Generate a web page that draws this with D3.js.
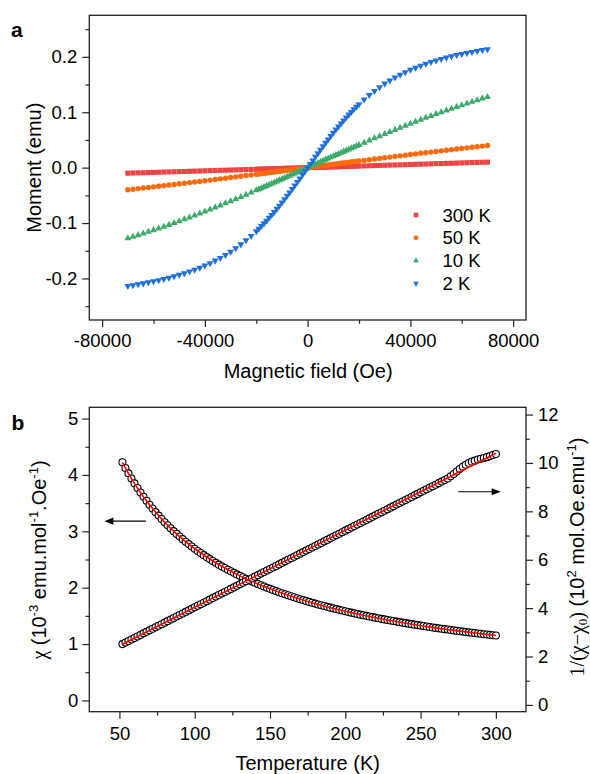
<!DOCTYPE html>
<html>
<head>
<meta charset="utf-8">
<script src="https://cdn.jsdelivr.net/npm/d3@7"></script>
<style>
  html, body { margin: 0; padding: 0; background: #fff; }
  svg { display: block; }
  text { font-family: "Liberation Sans", Arial, Helvetica, sans-serif; fill: #000; }
</style>
</head>
<body>
<svg id="fig" width="590" height="774"></svg>
<script>
// ---------- Panel a: M(H) loops at four temperatures ----------
const fieldOe = [
  -70000,-68000,-66000,-64000,-62000,-60000,-58000,-56000,-54000,-52000,-50000,-48000,-46000,
  -44000,-42000,-40000,-38000,-36000,-34000,-32000,-30000,-28000,-26000,-24000,-22000,
  -20000,-19000,-18000,-17000,-16000,-15000,-14000,-13000,-12000,-11000,-10000,-9000,-8000,
  -7000,-6000,-5000,-4000,-3000,-2000,-1000,0,1000,2000,3000,4000,5000,6000,7000,8000,9000,
  10000,11000,12000,13000,14000,15000,16000,17000,18000,19000,20000,
  22000,24000,26000,28000,30000,32000,34000,36000,38000,40000,42000,44000,46000,48000,50000,
  52000,54000,56000,58000,60000,62000,64000,66000,68000,70000
];
const moment300K = [
  -0.0100,-0.0097,-0.0094,-0.0092,-0.0089,-0.0086,-0.0083,-0.0080,-0.0077,-0.0074,-0.0072,-0.0069,-0.0066,
  -0.0063,-0.0060,-0.0057,-0.0054,-0.0051,-0.0049,-0.0046,-0.0043,-0.0040,-0.0037,-0.0034,-0.0031,
  -0.0029,-0.0027,-0.0026,-0.0024,-0.0023,-0.0021,-0.0020,-0.0019,-0.0017,-0.0016,-0.0014,-0.0013,-0.0011,
  -0.0010,-0.0009,-0.0007,-0.0006,-0.0004,-0.0003,-0.0001,0,0.0001,0.0003,0.0004,0.0006,0.0007,0.0009,0.0010,0.0011,0.0013,
  0.0014,0.0016,0.0017,0.0019,0.0020,0.0021,0.0023,0.0024,0.0026,0.0027,0.0029,
  0.0031,0.0034,0.0037,0.0040,0.0043,0.0046,0.0049,0.0051,0.0054,0.0057,0.0060,0.0063,0.0066,0.0069,0.0072,
  0.0074,0.0077,0.0080,0.0083,0.0086,0.0089,0.0092,0.0094,0.0097,0.0100
];
const moment50K = [
  -0.0399,-0.0389,-0.0378,-0.0368,-0.0357,-0.0347,-0.0336,-0.0325,-0.0314,-0.0303,-0.0292,-0.0281,-0.0270,
  -0.0259,-0.0248,-0.0236,-0.0225,-0.0213,-0.0202,-0.0190,-0.0178,-0.0167,-0.0155,-0.0143,-0.0131,
  -0.0120,-0.0114,-0.0108,-0.0102,-0.0096,-0.0090,-0.0084,-0.0078,-0.0072,-0.0066,-0.0060,-0.0054,-0.0048,
  -0.0042,-0.0036,-0.0030,-0.0024,-0.0018,-0.0012,-0.0006,0,0.0006,0.0012,0.0018,0.0024,0.0030,0.0036,0.0042,0.0048,0.0054,
  0.0060,0.0066,0.0072,0.0078,0.0084,0.0090,0.0096,0.0102,0.0108,0.0114,0.0120,
  0.0131,0.0143,0.0155,0.0167,0.0178,0.0190,0.0202,0.0213,0.0225,0.0236,0.0248,0.0259,0.0270,0.0281,0.0292,
  0.0303,0.0314,0.0325,0.0336,0.0347,0.0357,0.0368,0.0378,0.0389,0.0399
];
const moment10K = [
  -0.1275,-0.1247,-0.1218,-0.1188,-0.1158,-0.1128,-0.1097,-0.1065,-0.1033,-0.1000,-0.0967,-0.0933,-0.0899,
  -0.0864,-0.0828,-0.0792,-0.0756,-0.0719,-0.0682,-0.0644,-0.0606,-0.0568,-0.0529,-0.0490,-0.0450,
  -0.0410,-0.0390,-0.0370,-0.0350,-0.0329,-0.0309,-0.0289,-0.0268,-0.0248,-0.0227,-0.0207,-0.0186,-0.0166,
  -0.0145,-0.0124,-0.0104,-0.0083,-0.0062,-0.0041,-0.0021,0,0.0021,0.0041,0.0062,0.0083,0.0104,0.0124,0.0145,0.0166,0.0186,
  0.0207,0.0227,0.0248,0.0268,0.0289,0.0309,0.0329,0.0350,0.0370,0.0390,0.0410,
  0.0450,0.0490,0.0529,0.0568,0.0606,0.0644,0.0682,0.0719,0.0756,0.0792,0.0828,0.0864,0.0899,0.0933,0.0967,
  0.1000,0.1033,0.1065,0.1097,0.1128,0.1158,0.1188,0.1218,0.1247,0.1275
];
const moment2K = [
  -0.2137,-0.2122,-0.2106,-0.2089,-0.2071,-0.2052,-0.2032,-0.2010,-0.1986,-0.1962,-0.1935,-0.1906,-0.1875,
  -0.1841,-0.1805,-0.1766,-0.1724,-0.1678,-0.1629,-0.1575,-0.1517,-0.1453,-0.1385,-0.1311,-0.1232,
  -0.1146,-0.1101,-0.1055,-0.1006,-0.0957,-0.0906,-0.0853,-0.0799,-0.0744,-0.0687,-0.0629,-0.0570,-0.0509,
  -0.0448,-0.0386,-0.0323,-0.0259,-0.0195,-0.0130,-0.0065,0,0.0065,0.0130,0.0195,0.0259,0.0323,0.0386,0.0448,0.0509,0.0570,
  0.0629,0.0687,0.0744,0.0799,0.0853,0.0906,0.0957,0.1006,0.1055,0.1101,0.1146,
  0.1232,0.1311,0.1385,0.1453,0.1517,0.1575,0.1629,0.1678,0.1724,0.1766,0.1805,0.1841,0.1875,0.1906,0.1935,
  0.1962,0.1986,0.2010,0.2032,0.2052,0.2071,0.2089,0.2106,0.2122,0.2137
];
const seriesNames = ["300 K", "50 K", "10 K", "2 K"];
const fieldTicks = [-80000, -40000, 0, 40000, 80000];
const fieldMinorTicks = [-60000, -20000, 20000, 60000];
const momentTicks = [-0.2, -0.1, 0, 0.1, 0.2];
const momentMinorTicks = [-0.25, -0.15, -0.05, 0.05, 0.15, 0.25];

// ---------- Panel b: susceptibility and inverse susceptibility ----------
const temperatureK = [
  52,54,56,58,60,62,64,66,68,70,72,74,76,78,80,82,84,86,88,90,92,94,96,98,100,
  102,104,106,108,110,112,114,116,118,120,122,124,126,128,130,132,134,136,138,140,
  142,144,146,148,150,152,154,156,158,160,162,164,166,168,170,172,174,176,178,180,
  182,184,186,188,190,192,194,196,198,200,202,204,206,208,210,212,214,216,218,220,
  222,224,226,228,230,232,234,236,238,240,242,244,246,248,250,252,254,256,258,260,
  262,264,266,268,270,272,274,276,278,280,282,284,286,288,290,292,294,296,298,300
];
const chi = [
  4.224,4.124,4.028,3.938,3.851,3.768,3.689,3.613,3.541,3.471,
  3.404,3.340,3.279,3.219,3.162,3.107,3.054,3.003,2.954,2.907,
  2.861,2.816,2.773,2.731,2.691,2.652,2.614,2.577,2.542,2.507,
  2.474,2.441,2.409,2.378,2.348,2.319,2.291,2.263,2.236,2.210,
  2.184,2.159,2.135,2.111,2.088,2.065,2.043,2.021,2.000,1.979,
  1.959,1.939,1.920,1.901,1.883,1.865,1.847,1.830,1.813,1.796,
  1.780,1.764,1.748,1.733,1.718,1.703,1.688,1.674,1.660,1.646,
  1.633,1.620,1.607,1.594,1.582,1.569,1.557,1.545,1.534,1.522,
  1.511,1.500,1.489,1.478,1.468,1.457,1.447,1.437,1.427,1.417,
  1.408,1.398,1.389,1.380,1.371,1.362,1.353,1.344,1.336,1.327,
  1.319,1.311,1.303,1.295,1.287,1.279,1.272,1.264,1.257,1.250,
  1.242,1.235,1.228,1.221,1.215,1.208,1.201,1.195,1.188,1.182,
  1.175,1.169,1.163,1.157,1.151
];
const invChi = [
  2.513,2.576,2.640,2.703,2.766,2.830,2.893,2.957,3.020,3.083,
  3.147,3.210,3.273,3.337,3.400,3.463,3.527,3.590,3.654,3.717,
  3.780,3.844,3.907,3.970,4.034,4.097,4.160,4.224,4.287,4.350,
  4.414,4.477,4.541,4.604,4.667,4.731,4.794,4.857,4.921,4.984,
  5.047,5.111,5.174,5.237,5.301,5.364,5.428,5.491,5.554,5.618,
  5.681,5.744,5.808,5.871,5.934,5.998,6.061,6.125,6.188,6.251,
  6.315,6.378,6.441,6.505,6.568,6.631,6.695,6.758,6.821,6.885,
  6.948,7.012,7.075,7.138,7.202,7.265,7.328,7.392,7.455,7.518,
  7.582,7.645,7.709,7.772,7.835,7.899,7.962,8.025,8.089,8.152,
  8.215,8.279,8.342,8.405,8.469,8.532,8.596,8.659,8.722,8.786,
  8.849,8.912,8.976,9.039,9.102,9.166,9.229,9.293,9.356,9.449,
  9.543,9.646,9.749,9.843,9.926,9.999,10.053,10.096,10.140,10.173,
  10.206,10.240,10.283,10.326,10.370
];
// Curie-Weiss fit curves
const chiFitT = [52,56,60,66,72,80,90,100,115,130,150,175,200,230,260,300];
const chiFit = [4.224,4.028,3.851,3.613,3.404,3.162,2.907,2.691,2.425,2.210,1.979,1.756,1.582,1.417,1.287,1.151];
const invFitT = [52, 300];
const invFit = [2.51, 10.40];
const tempTicks = [50, 100, 150, 200, 250, 300];
const tempMinorTicks = [75, 125, 175, 225, 275];
const chiTicks = [0, 1, 2, 3, 4, 5];
const chiMinorTicks = [0.5, 1.5, 2.5, 3.5, 4.5];
const invTicks = [0, 2, 4, 6, 8, 10, 12];
const invMinorTicks = [1, 3, 5, 7, 9, 11];

// ---------- styling ----------
const colors = ["#EF4343", "#FF6A0A", "#3DAA6B", "#1F6FDF"];
const AXIS = "#222";
const TICK_FONT = 18.5;
const TITLE_FONT = 20;
const SANS = '"Liberation Sans", Arial, Helvetica, sans-serif';
const SERIF = '"Liberation Serif", "Times New Roman", serif';

const svg = d3.select("#fig");
const hy = s => s.replace(/\u2212/g, "-");

function styleAxis(g) {
  g.select(".domain").remove();
  g.selectAll(".tick line").attr("stroke", AXIS).attr("stroke-width", 1.2);
  g.selectAll("text").attr("font-size", TICK_FONT).attr("font-family", SANS).attr("fill", "#000");
}
function drawAxis(g, axisFn, scale, major, minor, fmt, pad) {
  g.append("g").call(axisFn(scale).tickValues(major).tickSize(7).tickPadding(pad).tickFormat(fmt)).call(styleAxis);
  g.append("g").call(axisFn(scale).tickValues(minor).tickSize(3.8).tickFormat("")).call(styleAxis);
}
function frame(box) {
  svg.append("rect")
    .attr("x", box.left).attr("y", box.top)
    .attr("width", box.right - box.left).attr("height", box.bottom - box.top)
    .attr("fill", "none").attr("stroke", AXIS).attr("stroke-width", 1.3);
}

// ================= Panel a =================
const A = { left: 89.3, right: 526, top: 15.3, bottom: 320 };
const xA = d3.scaleLinear().domain([-85000, 85000]).range([A.left, A.right]);
const yA = d3.scaleLinear().domain([-0.275, 0.275]).range([A.bottom, A.top]);

const series = [moment300K, moment50K, moment10K, moment2K];
const symbolsA = [
  { type: d3.symbolSquare, size: 26, rot: 0 },
  { type: d3.symbolCircle, size: 23, rot: 0 },
  { type: d3.symbolTriangle, size: 21, rot: 0 },
  { type: d3.symbolTriangle, size: 21, rot: 180 }
];
const legendSymbols = [
  { type: d3.symbolSquare, size: 21, rot: 0 },
  { type: d3.symbolCircle, size: 18, rot: 0 },
  { type: d3.symbolTriangle, size: 14, rot: 0 },
  { type: d3.symbolTriangle, size: 14, rot: 180 }
];

const plotA = svg.append("g");
series.forEach((vals, i) => {
  const sym = d3.symbol().type(symbolsA[i].type).size(symbolsA[i].size)();
  plotA.append("g").selectAll("path")
    .data(fieldOe.map((h, k) => [h, vals[k]]))
    .join("path")
    .attr("d", sym)
    .attr("fill", colors[i])
    .attr("transform", d => `translate(${xA(d[0])},${yA(d[1])}) rotate(${symbolsA[i].rot})`);
});

frame(A);
drawAxis(svg.append("g").attr("transform", `translate(0,${A.bottom})`), d3.axisBottom, xA,
  fieldTicks, fieldMinorTicks, d => hy(d3.format("d")(d)), 7);
drawAxis(svg.append("g").attr("transform", `translate(${A.left},0)`), d3.axisLeft, yA,
  momentTicks, momentMinorTicks, d => hy(d3.format(".1f")(d)), 5);

// legend
const legend = svg.append("g");
seriesNames.forEach((name, i) => {
  const cy = 215 + i * 22.8;
  legend.append("path")
    .attr("d", d3.symbol().type(legendSymbols[i].type).size(legendSymbols[i].size)())
    .attr("fill", colors[i])
    .attr("transform", `translate(416,${cy}) rotate(${legendSymbols[i].rot})`);
  legend.append("text").attr("x", 442.5).attr("y", cy + 6.6)
    .attr("font-size", TICK_FONT).text(name);
});

svg.append("text").attr("x", (A.left + A.right) / 2 + 0.5).attr("y", 377.5)
  .attr("text-anchor", "middle").attr("font-size", TITLE_FONT).text("Magnetic field (Oe)");
svg.append("text").attr("transform", `translate(41,${(A.top + A.bottom) / 2}) rotate(-90)`)
  .attr("text-anchor", "middle").attr("font-size", TITLE_FONT).text("Moment (emu)");
svg.append("text").attr("x", 11).attr("y", 37).attr("font-size", 21).attr("font-weight", "bold").text("a");

// ================= Panel b =================
const B = { left: 89.3, right: 526, top: 407.3, bottom: 711.7 };
const xB = d3.scaleLinear().domain([30, 320]).range([B.left, B.right]);
const yBL = d3.scaleLinear().domain([-0.2, 5.2]).range([B.bottom, B.top]);
const yBR = d3.scaleLinear().domain([-0.28, 12.3]).range([B.bottom, B.top]);

const plotB = svg.append("g");
function circles(ys, yScale) {
  plotB.append("g").selectAll("circle")
    .data(temperatureK.map((t, k) => [t, ys[k]]))
    .join("circle")
    .attr("cx", d => xB(d[0])).attr("cy", d => yScale(d[1])).attr("r", 3.5)
    .attr("fill", "#fff").attr("stroke", "#000").attr("stroke-width", 1.1);
}
circles(chi, yBL);
circles(invChi, yBR);

plotB.append("path")
  .datum(chiFitT.map((t, k) => [t, chiFit[k]]))
  .attr("d", d3.line().x(d => xB(d[0])).y(d => yBL(d[1])).curve(d3.curveCatmullRom))
  .attr("fill", "none").attr("stroke", "#FF0000").attr("stroke-width", 1.6);
plotB.append("path")
  .datum(invFitT.map((t, k) => [t, invFit[k]]))
  .attr("d", d3.line().x(d => xB(d[0])).y(d => yBR(d[1])))
  .attr("fill", "none").attr("stroke", "#FF0000").attr("stroke-width", 1.6);

// arrows pointing to the axis each curve belongs to
function arrow(x0, x1, y) {
  const dir = Math.sign(x1 - x0), head = 9, half = 3.6;
  svg.append("line").attr("x1", x0).attr("x2", x1 - dir * head + dir * 1).attr("y1", y).attr("y2", y)
    .attr("stroke", "#000").attr("stroke-width", 1.2);
  svg.append("path")
    .attr("d", `M${x1},${y} L${x1 - dir * head},${y - half} L${x1 - dir * head},${y + half} Z`)
    .attr("fill", "#000");
}
arrow(xB(67.6), xB(40), yBL(3.18));
arrow(xB(275), xB(303.2), yBR(8.81));

frame(B);
drawAxis(svg.append("g").attr("transform", `translate(0,${B.bottom})`), d3.axisBottom, xB,
  tempTicks, tempMinorTicks, d3.format("d"), 8);
drawAxis(svg.append("g").attr("transform", `translate(${B.left},0)`), d3.axisLeft, yBL,
  chiTicks, chiMinorTicks, d3.format("d"), 4);
drawAxis(svg.append("g").attr("transform", `translate(${B.right},0)`), d3.axisRight, yBR,
  invTicks, invMinorTicks, d3.format("d"), 5);

svg.append("text").attr("x", (B.left + B.right) / 2).attr("y", 770)
  .attr("text-anchor", "middle").attr("font-size", TITLE_FONT).text("Temperature (K)");

// left title: χ (10^-3 emu.mol^-1.Oe^-1)
const lt = svg.append("text").attr("transform", `translate(45.5,560) rotate(-90)`)
  .attr("text-anchor", "middle").attr("font-size", TITLE_FONT);
lt.append("tspan").attr("font-family", SERIF).text("\u03c7");
lt.append("tspan").text(" (10");
lt.append("tspan").attr("font-size", 13).attr("dy", -8).text("-3");
lt.append("tspan").attr("dy", 8).text(" emu.mol");
lt.append("tspan").attr("font-size", 13).attr("dy", -8).text("-1");
lt.append("tspan").attr("dy", 8).text(".Oe");
lt.append("tspan").attr("font-size", 13).attr("dy", -8).text("-1");
lt.append("tspan").attr("dy", 8).text(")");

// right title: 1/(χ−χ0) (10^2 mol.Oe.emu^-1)
const rt = svg.append("text").attr("transform", `translate(583.5,557) rotate(-90)`)
  .attr("text-anchor", "middle").attr("font-size", TITLE_FONT);
rt.append("tspan").attr("font-family", SERIF).text("1/(\u03c7\u2212\u03c7");
rt.append("tspan").attr("font-family", SERIF).attr("font-size", 13).attr("dy", 3).text("0");
rt.append("tspan").attr("font-family", SERIF).attr("dy", -3).text(")");
rt.append("tspan").text(" (10");
rt.append("tspan").attr("font-size", 13).attr("dy", -8).text("2");
rt.append("tspan").attr("dy", 8).text(" mol.Oe.emu");
rt.append("tspan").attr("font-size", 13).attr("dy", -8).text("-1");
rt.append("tspan").attr("dy", 8).text(")");

svg.append("text").attr("x", 11.5).attr("y", 429.5).attr("font-size", 21).attr("font-weight", "bold").text("b");
</script>
</body>
</html>
